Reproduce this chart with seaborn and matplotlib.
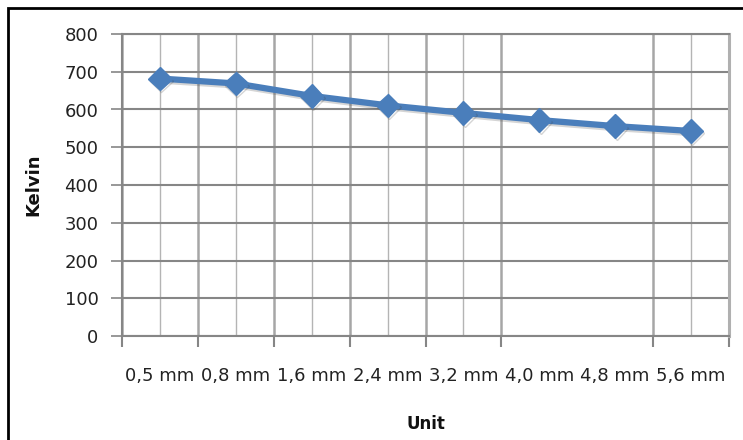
import matplotlib
matplotlib.use("Agg")
import matplotlib.pyplot as plt
import matplotlib.patheffects as pe
from matplotlib.patches import Rectangle
import seaborn as sns
import pandas as pd
import numpy as np

categories = ["0,5 mm", "0,8 mm", "1,6 mm", "2,4 mm", "3,2 mm", "4,0 mm", "4,8 mm", "5,6 mm"]
kelvin = [682, 669, 636, 611, 591, 572, 556, 543]
y_ticks = [0, 100, 200, 300, 400, 500, 600, 700, 800]

sns.set_theme(style="white")
plt.rcParams["font.family"] = ["DejaVu Sans"]

df = pd.DataFrame({"Unit": categories, "Kelvin": kelvin})

fig = plt.figure(figsize=(7.43, 4.40), dpi=100)
ax = fig.add_axes([122 / 743, 1 - 336 / 440, (729 - 122) / 743, (336 - 34) / 440])

line_color = "#4a7ebb"
sns.lineplot(data=df, x="Unit", y="Kelvin", ax=ax, sort=False, color=line_color,
             linewidth=4.5, marker="D", markersize=12, markeredgecolor=line_color,
             markeredgewidth=1,
             path_effects=[pe.SimpleLineShadow(offset=(1, -1.5), shadow_color="#404040", alpha=0.22),
                           pe.Normal()])

n = len(categories)
ax.set_xlim(-0.5, n - 0.5)
ax.set_ylim(y_ticks[0], y_ticks[-1])
ax.set_yticks(y_ticks)
ax.set_yticklabels([str(v) for v in y_ticks])

# major ticks at category centres (labels), minor ticks at category boundaries
ax.set_xticks(np.arange(n))
ax.set_xticklabels(categories)
# the reference image lacks the boundary tick/gridline between 4,0 mm and 4,8 mm
boundaries = [b for b in (np.arange(n + 1) - 0.5) if b != 5.5]
ax.set_xticks(boundaries, minor=True)

ax.yaxis.grid(True, color="#868686", linewidth=1.5)
ax.xaxis.grid(True, which="major", color="#b4b4b4", linewidth=1.0)
ax.xaxis.grid(True, which="minor", color="#a6a6a6", linewidth=1.8)
ax.set_axisbelow(True)

# the reference image also lacks the centre gridlines of 4,0 mm and 4,8 mm
for i in (5, 6):
    ax.xaxis.get_major_ticks()[i].gridline.set_visible(False)

ax.tick_params(axis="x", which="major", length=0, pad=22, labelsize=13, labelcolor="#222222")
ax.tick_params(axis="x", which="minor", length=8, width=1.5, color="#868686", direction="out", bottom=True)
ax.tick_params(axis="y", which="major", length=8, width=1.2, color="#868686", direction="out",
               left=True, pad=9, labelsize=13, labelcolor="#222222")

for s in ("left", "bottom", "top"):
    ax.spines[s].set_color("#868686")
    ax.spines[s].set_linewidth(1.5)
ax.spines["right"].set_color("#b0b0b0")
ax.spines["right"].set_linewidth(2.2)

ax.set_xlabel("Unit", fontsize=12, fontweight="bold", color="#111111", labelpad=22)
ax.set_ylabel("Kelvin", fontsize=13, fontweight="bold", color="#111111", labelpad=16)

# outer chart frame (cropped at right and bottom in the reference)
fig.add_artist(Rectangle((8 / 743, -0.2), 1.2, 1.2 - 8 / 440, transform=fig.transFigure,
                         fill=False, edgecolor="black", linewidth=2))

fig.savefig("out.png", dpi=100)
